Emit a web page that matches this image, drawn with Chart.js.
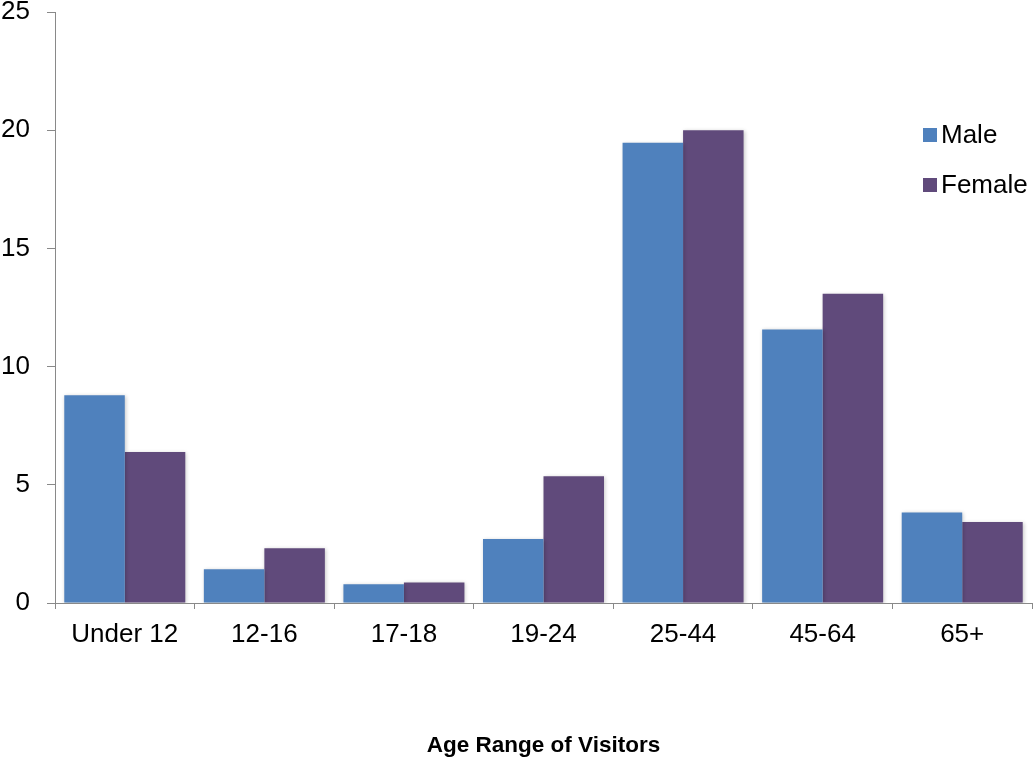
<!DOCTYPE html>
<html>
<head>
<meta charset="utf-8">
<script src="https://cdn.jsdelivr.net/npm/chart.js@4.4.1/dist/chart.umd.min.js"></script>
<style>
  html, body { margin: 0; padding: 0; background: #ffffff; }
  #wrap { width: 1033px; height: 760px; position: relative; }
</style>
</head>
<body>
<div id="wrap"><canvas id="chart" width="1033" height="760"></canvas></div>
<script>
// Visitors by age range and gender
const categories = ['Under 12', '12-16', '17-18', '19-24', '25-44', '45-64', '65+'];
const maleValues = [8.79, 1.43, 0.79, 2.71, 19.47, 11.57, 3.83];
const femaleValues = [6.39, 2.32, 0.87, 5.36, 20.0, 13.08, 3.43];
const seriesNames = ['Male', 'Female'];
const yTicks = [0, 5, 10, 15, 20, 25];

const FONT = '"Liberation Sans", Arial, sans-serif';
const AXIS = '#898989';

// Soft drop shadow under the bars
const barShadow = {
  id: 'barShadow',
  beforeDatasetsDraw(chart) {
    const ctx = chart.ctx;
    ctx.save();
    ctx.shadowColor = 'rgba(0,0,0,0.22)';
    ctx.shadowBlur = 4;
    ctx.shadowOffsetX = 1;
    ctx.shadowOffsetY = 1;
  },
  afterDatasetsDraw(chart) {
    chart.ctx.restore();
  }
};

// Legend drawn inside the plot on the right
const sideLegend = {
  id: 'sideLegend',
  afterDraw(chart) {
    const ctx = chart.ctx;
    ctx.save();
    ctx.font = '26px ' + FONT;
    ctx.textBaseline = 'middle';
    ctx.textAlign = 'left';
    chart.data.datasets.forEach((ds, i) => {
      const cy = 135 + i * 50;
      ctx.fillStyle = ds.backgroundColor;
      ctx.fillRect(923, cy - 7, 14, 14);
      ctx.fillStyle = '#000000';
      ctx.fillText(ds.label, 941, cy + 1);
    });
    ctx.restore();
  }
};

new Chart(document.getElementById('chart'), {
  type: 'bar',
  data: {
    labels: categories,
    datasets: [
      { label: seriesNames[0], data: maleValues, backgroundColor: '#4F81BD' },
      { label: seriesNames[1], data: femaleValues, backgroundColor: '#604A7B' }
    ]
  },
  options: {
    responsive: false,
    animation: false,
    layout: { padding: { top: 12, right: 1, left: 0, bottom: 0 } },
    datasets: { bar: { categoryPercentage: 0.867, barPercentage: 1.0 } },
    plugins: {
      legend: { display: false },
      tooltip: { enabled: false }
    },
    scales: {
      x: {
        grid: {
          display: true,
          offset: true,
          drawOnChartArea: false,
          drawTicks: true,
          tickLength: 6,
          color: AXIS
        },
        border: { display: true, color: AXIS, width: 1 },
        ticks: {
          color: '#000000',
          font: { family: FONT, size: 26 },
          padding: 10,
          maxRotation: 0
        },
        title: {
          display: true,
          text: 'Age Range of Visitors',
          color: '#000000',
          font: { family: FONT, size: 22.5, weight: 'bold' },
          padding: { top: 0, bottom: 1 }
        },
        afterFit(scale) {
          scale.height = 157;
          scale.paddingLeft = 0;
          scale.paddingRight = 0;
        }
      },
      y: {
        min: 0,
        max: 25,
        afterBuildTicks(scale) { scale.ticks = yTicks.map(v => ({ value: v })); },
        grid: {
          display: true,
          drawOnChartArea: false,
          drawTicks: true,
          tickLength: 8,
          color: AXIS
        },
        border: { display: true, color: AXIS, width: 1 },
        ticks: {
          color: '#000000',
          font: { family: FONT, size: 26 },
          padding: 17
        },
        afterFit(scale) {
          scale.width = 55;
          scale.paddingTop = 0;
          scale.paddingBottom = 0;
        }
      }
    }
  },
  plugins: [barShadow, sideLegend]
});
</script>
</body>
</html>
